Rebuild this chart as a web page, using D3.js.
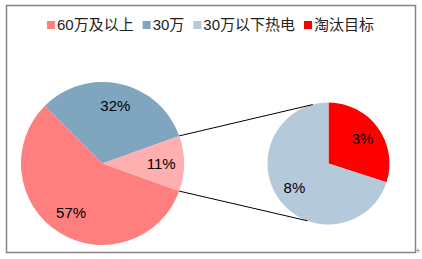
<!DOCTYPE html>
<html>
<head>
<meta charset="utf-8">
<script src="https://cdn.jsdelivr.net/npm/d3@7"></script>
<style>
    body { margin: 0; background: #fff; }
    text { font-family: "Liberation Sans", Arial, "Noto Sans CJK SC", sans-serif; }
</style>
</head>
<body>
<div id="chart-area"></div>
<script>

// Chart data
let mainLabels = ["60万及以上", "30万", "30万以下热电"];
let mainValues = [57, 32, 11];
let subLabels = ["淘汰目标", "30万以下热电"];
let subValues = [3.3, 7.7];
let legendLabels = ["60万及以上", "30万", "30万以下热电", "淘汰目标"];

let mainColors = ["#ff7f7f", "#7fa6be", "#ffafaf"];
let subColors = ["#ff0000", "#b4c9d9"];
let legendColors = ["#ff7f7f", "#7fa6be", "#b4c9d9", "#ff0000"];

let width = 422, height = 259;

let svg = d3.select("#chart-area").append("svg")
    .attr("width", width)
    .attr("height", height);

// Frame
svg.append("rect")
    .attr("x", 6.5).attr("y", 5.5)
    .attr("width", 409).attr("height", 247)
    .attr("fill", "#fff")
    .attr("stroke", "#858585")
    .attr("stroke-width", 1.5);

svg.append("text")
    .attr("x", 418).attr("y", 254)
    .attr("text-anchor", "middle")
    .attr("font-size", 9)
    .attr("fill", "#888")
    .text("+");

// Main pie
let mainCx = 102.5, mainCy = 163.5, mainR = 81.5;
let half = Math.PI * mainValues[2] / 100;

let mainPie = d3.pie().sort(null)
    .startAngle(Math.PI / 2 + half)
    .endAngle(Math.PI / 2 + half + 2 * Math.PI);

let mainArc = d3.arc().innerRadius(0).outerRadius(mainR);
let mainLabelArc = d3.arc().innerRadius(mainR * 0.72).outerRadius(mainR * 0.72);

let mainG = svg.append("g")
    .attr("transform", "translate(" + mainCx + "," + mainCy + ")");

let mainSlices = mainPie(mainValues);

mainG.selectAll("path")
    .data(mainSlices)
    .enter().append("path")
    .attr("d", mainArc)
    .attr("fill", function (d, i) { return mainColors[i]; });

mainG.selectAll("text")
    .data(mainSlices)
    .enter().append("text")
    .attr("transform", function (d) { return "translate(" + mainLabelArc.centroid(d) + ")"; })
    .attr("text-anchor", "middle")
    .attr("dy", "0.35em")
    .attr("font-size", 15)
    .attr("fill", "#000")
    .text(function (d) { return Math.round(d.data) + "%"; });

// Secondary pie
let subCx = 328.5, subCy = 163.5, subR = 61;

let subPie = d3.pie().sort(null);
let subArc = d3.arc().innerRadius(0).outerRadius(subR);
let subLabelArc = d3.arc().innerRadius(subR * 0.69).outerRadius(subR * 0.69);

let subG = svg.append("g")
    .attr("transform", "translate(" + subCx + "," + subCy + ")");

let subSlices = subPie(subValues);

subG.selectAll("path")
    .data(subSlices)
    .enter().append("path")
    .attr("d", subArc)
    .attr("fill", function (d, i) { return subColors[i]; });

subG.selectAll("text")
    .data(subSlices)
    .enter().append("text")
    .attr("transform", function (d) { return "translate(" + subLabelArc.centroid(d) + ")"; })
    .attr("text-anchor", "middle")
    .attr("dy", "0.35em")
    .attr("font-size", 15)
    .attr("fill", "#000")
    .text(function (d) { return Math.round(d.data) + "%"; });

// Connector lines from the split slice to the secondary pie
function pointAt(cx, cy, r, a) {
    return [cx + r * Math.sin(a), cy - r * Math.cos(a)];
}
let split = mainSlices[2];
let deg = Math.PI / 180;
let connectors = [
    [pointAt(mainCx, mainCy, mainR, split.startAngle), pointAt(subCx, subCy, subR, -15 * deg)],
    [pointAt(mainCx, mainCy, mainR, split.endAngle), pointAt(subCx, subCy, subR, 200 * deg)]
];

svg.selectAll(".connector")
    .data(connectors)
    .enter().append("line")
    .attr("class", "connector")
    .attr("x1", function (d) { return d[0][0]; })
    .attr("y1", function (d) { return d[0][1]; })
    .attr("x2", function (d) { return d[1][0]; })
    .attr("y2", function (d) { return d[1][1]; })
    .attr("stroke", "#000")
    .attr("stroke-width", 1);

// Legend
let legend = svg.append("g");
let lx = 0;
legendLabels.forEach(function (label, i) {
    let item = legend.append("g").attr("transform", "translate(" + lx + ",0)");
    item.append("rect")
        .attr("x", 0).attr("y", 21)
        .attr("width", 8).attr("height", 8)
        .attr("fill", legendColors[i]);
    let t = item.append("text")
        .attr("x", 10).attr("y", 30)
        .attr("font-size", 15)
        .attr("fill", "#222")
        .text(label);
    lx += 10 + t.node().getComputedTextLength() + 9;
});
let legendW = lx - 9;
legend.attr("transform", "translate(" + (210.5 - legendW / 2) + ",0)");

</script>
</body>
</html>
